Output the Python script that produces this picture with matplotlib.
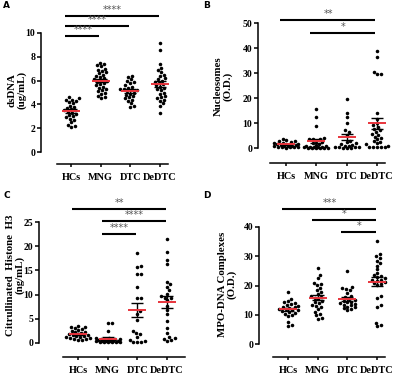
import numpy as np
import matplotlib
matplotlib.use("Agg")
import matplotlib.pyplot as plt

categories = ["HCs", "MNG", "DTC", "DeDTC"]

# Panel A: dsDNA (ug/mL)
dsdna_hcs = [4.6, 4.5, 4.4, 4.4, 4.3, 4.2, 4.1, 3.9, 3.8, 3.7, 3.6, 3.5, 3.5, 3.4, 3.3,
             3.2, 3.1, 3.0, 2.9, 2.8, 2.7, 2.5, 2.3, 2.2, 2.1]
dsdna_mng = [7.5, 7.4, 7.3, 7.2, 7.0, 6.9, 6.8, 6.7, 6.6, 6.5, 6.4, 6.3, 6.2, 6.1, 6.0,
             6.0, 5.9, 5.8, 5.7, 5.6, 5.5, 5.4, 5.3, 5.2, 5.1, 5.0, 4.9, 4.7, 4.6, 4.5]
dsdna_dtc = [6.4, 6.3, 6.1, 6.0, 5.9, 5.8, 5.6, 5.5, 5.4, 5.3, 5.3, 5.2, 5.2, 5.1, 5.0,
             4.9, 4.8, 4.7, 4.6, 4.5, 4.4, 4.3, 4.1, 3.9, 3.8]
dsdna_dedtc = [9.2, 8.6, 7.4, 7.1, 6.9, 6.7, 6.5, 6.4, 6.2, 6.1, 6.0, 5.9, 5.8, 5.7, 5.6,
               5.5, 5.4, 5.3, 5.2, 5.0, 4.9, 4.7, 4.6, 4.5, 4.4, 4.3, 4.1, 3.9, 3.3]

# Panel B: Nucleosomes (O.D.)
nuc_hcs = [3.5, 3.2, 3.0, 2.8, 2.6, 2.2, 2.0, 1.8, 1.6, 1.5, 1.3, 1.2, 1.1, 1.0, 0.9,
           0.8, 0.7, 0.6, 0.5, 0.4, 0.3, 0.3, 0.2]
nuc_mng = [15.7, 12.5, 9.0, 4.0, 3.8, 3.6, 3.5, 3.0, 2.5, 2.0, 1.5, 1.2, 1.0, 0.8, 0.6,
           0.5, 0.4, 0.3, 0.3, 0.2, 0.2, 0.2, 0.2, 0.1, 0.1]
nuc_dtc = [19.5, 14.0, 12.5, 10.2, 7.2, 6.5, 5.2, 3.0, 2.5, 2.0, 1.5, 1.2, 1.0, 0.8,
           0.5, 0.4, 0.3, 0.3, 0.2, 0.2, 0.2]
nuc_dedtc = [39.0, 36.3, 30.5, 29.8, 29.6, 14.1, 11.5, 10.0, 9.2, 8.5, 7.8, 7.2, 6.5,
             5.8, 5.2, 4.6, 4.0, 3.5, 3.0, 2.5, 2.0, 1.5, 1.0, 0.6, 0.5, 0.4, 0.3, 0.3]

# Panel C: Citrullinated Histone H3 (ng/mL)
cit_hcs = [3.5, 3.4, 3.3, 3.0, 2.9, 2.7, 2.5, 2.3, 2.2, 2.0, 1.9, 1.8, 1.7, 1.6, 1.5,
           1.4, 1.3, 1.2, 1.1, 1.0, 0.9, 0.8, 0.7, 0.6]
cit_mng = [4.2, 4.2, 2.4, 1.1, 1.0, 0.9, 0.8, 0.8, 0.7, 0.7, 0.6, 0.6, 0.5, 0.5, 0.5,
           0.4, 0.4, 0.4, 0.3, 0.3, 0.3, 0.2, 0.2, 0.2]
cit_dtc = [18.5, 16.0, 15.7, 14.3, 14.2, 11.5, 9.3, 9.3, 6.6, 6.0, 4.8, 2.4, 2.1, 1.8,
           1.2, 0.6, 0.5, 0.3, 0.3, 0.3]
cit_dedtc = [21.4, 18.9, 17.2, 16.3, 12.7, 12.1, 11.6, 10.9, 10.2, 9.7, 9.4, 9.2, 8.8,
             7.7, 6.9, 6.0, 4.5, 3.2, 2.0, 1.2, 1.0, 0.8, 0.6, 0.5]

# Panel D: MPO-DNA Complexes (O.D.)
mpo_hcs = [17.8, 15.5, 14.6, 14.2, 14.0, 13.6, 13.3, 13.0, 12.8, 12.5, 12.3, 12.1, 11.9,
           11.7, 11.5, 11.2, 11.0, 10.7, 10.4, 10.0, 9.5, 7.6, 6.5, 6.0]
mpo_mng = [26.0, 23.5, 22.5, 21.0, 20.6, 20.2, 19.3, 18.5, 17.8, 17.0, 16.5, 16.2, 15.8,
           15.3, 14.8, 14.4, 13.9, 13.5, 13.0, 12.5, 11.9, 11.0, 10.3, 9.8, 9.0, 8.6]
mpo_dtc = [25.0, 19.5, 19.2, 18.8, 18.5, 17.5, 16.5, 16.0, 15.5, 15.2, 14.8, 14.5, 14.3,
           14.0, 13.8, 13.5, 13.2, 12.8, 12.5, 12.2, 11.8, 11.5]
mpo_dedtc = [35.3, 30.8, 30.2, 29.5, 28.5, 27.6, 26.8, 25.5, 24.2, 23.5, 23.2, 22.9,
             22.5, 22.0, 21.8, 21.5, 21.2, 20.8, 20.5, 20.2, 16.5, 15.8, 13.5, 12.8,
             7.2, 6.5, 6.0]

W, H = 400, 375
fig = plt.figure(figsize=(W / 100, H / 100), dpi=100)
SERIF = "Liberation Serif"
RED = "#e8343c"


def beeswarm(vals, ax, xc, diam_px, max_px=12.0):
    """Compute x positions (data units) so markers spread without overlapping much."""
    vals = np.asarray(vals, float)
    pts = ax.transData.transform(np.column_stack([np.full(len(vals), xc), vals]))
    ypx = pts[:, 1]
    x0 = pts[0, 0]
    order = np.argsort(ypx)
    placed = []
    xs = np.zeros(len(vals))
    cands = [0.0]
    k = 1
    while k * 0.5 <= max_px:
        cands += [k * 0.5, -k * 0.5]
        k += 1
    for i in order:
        y = ypx[i]
        best, best_d = None, -1
        for c in cands:
            if placed:
                d = min(np.hypot(px - c, py - y) for (px, py) in placed)
            else:
                d = 1e9
            if d >= diam_px:
                best = c
                break
            if d > best_d + 0.3:
                best_d, best = d, c
        placed.append((best, y))
        xs[i] = best
    inv = ax.transData.inverted()
    return inv.transform(np.column_stack([x0 + xs, ypx]))[:, 0]


def panel(spine_x, cat0_x, step, y0_px, ppu, top_px, right_px, bounds_px, line_px,
          ticks, groups, sigs, ylabel_lines, label_x, label_y, letter, letter_xy):
    xl = (spine_x - cat0_x) / step
    xr = (right_px - cat0_x) / step
    ytop = (y0_px - top_px) / ppu
    ax = fig.add_axes([spine_x / W, (H - y0_px) / H, (right_px - spine_x) / W,
                       (y0_px - top_px) / H])
    ax.set_xlim(xl, xr)
    ax.set_ylim(0, ytop)
    ax.patch.set_alpha(0)
    for s in ["top", "right"]:
        ax.spines[s].set_visible(False)
    ax.spines["left"].set_bounds(ticks[0], ticks[-1])
    ax.spines["left"].set_linewidth(1.1)
    ax.spines["bottom"].set_linewidth(1.1)
    ax.spines["bottom"].set_bounds((bounds_px[0] - cat0_x) / step, (bounds_px[1] - cat0_x) / step)
    ax.spines["bottom"].set_position(("outward", (line_px - y0_px) * 0.72))
    ax.set_yticks(ticks)
    ax.set_xticks(range(4))
    ax.set_xticklabels(categories)
    ax.tick_params(axis="y", length=3, width=1.1, pad=1, labelsize=7)
    ax.tick_params(axis="x", length=2.5, width=1.1, pad=4, labelsize=7.4)
    for t in ax.get_xticklabels() + ax.get_yticklabels():
        t.set_fontfamily(SERIF)
        t.set_fontweight("bold")
    for i, g in enumerate(groups):
        xs = beeswarm(g, ax, i, 3.7)
        ax.scatter(xs, g, s=6.5, color="black", linewidths=0, zorder=3, clip_on=False)
        m = np.mean(g)
        se = np.std(g, ddof=1) / np.sqrt(len(g))
        ax.plot([i - 0.3, i + 0.3], [m, m], color=RED, lw=1.4, zorder=5,
                solid_capstyle="butt")
        ax.errorbar([i], [m], yerr=[se], fmt="none", ecolor="black", elinewidth=1.0,
                    capsize=4.5, capthick=1.0, zorder=4)
    for (a, b, yv, txt) in sigs:
        ax.plot([a - 0.2, b - 0.05], [yv, yv], color="black", lw=1.5, clip_on=False,
                solid_capstyle="butt")
        ax.text((a + b) / 2 - 0.1, yv + 0.008 * ytop, txt, ha="center", va="bottom",
                fontsize=7, color="#555555", fontfamily="DejaVu Sans")
    fig.text(label_x / W, 1 - label_y / H, ylabel_lines, rotation=90, ha="center",
             va="center", fontsize=7.8, fontweight="bold", fontfamily=SERIF,
             linespacing=1.0, multialignment="center")
    fig.text(letter_xy[0] / W, 1 - letter_xy[1] / H, letter, fontsize=6.5,
             fontweight="bold", fontfamily="DejaVu Sans", ha="left", va="center")
    return ax


# Panel A
panel(41, 71, 29.67, 152, 11.9, 2, 178, (57, 168), 164, [0, 2, 4, 6, 8, 10],
      [dsdna_hcs, dsdna_mng, dsdna_dtc, dsdna_dedtc],
      [(0, 1, 9.75, "****"), (0, 2, 10.6, "****"), (0, 3, 11.4, "****")],
      "dsDNA\n(ug/mL)", 17, 90, "A", (3, 5))

# Panel B
panel(258, 286, 30.3, 148, 2.5, 2, 398, (270, 385), 163, [0, 10, 20, 30, 40, 50],
      [nuc_hcs, nuc_mng, nuc_dtc, nuc_dedtc],
      [(0, 3, 51.2, "**"), (1, 3, 46.0, "*")],
      "Nucleosomes\n(O.D.)", 223, 86, "B", (203, 5))

# Panel C
panel(39, 78, 29.7, 343, 4.84, 195, 192, (63, 185), 357, [0, 5, 10, 15, 20, 25],
      [cit_hcs, cit_mng, cit_dtc, cit_dedtc],
      [(1, 2, 22.5, "****"), (1, 3, 25.2, "****"), (0, 3, 27.7, "**")],
      "Citrullinated  Histone  H3\n(ng/mL)", 15, 275, "C", (3, 195))

# Panel D
panel(259, 288, 29.7, 344, 2.925, 195, 398, (273, 385), 357, [0, 10, 20, 30, 40],
      [mpo_hcs, mpo_mng, mpo_dtc, mpo_dedtc],
      [(2, 3, 38.2, "*"), (1, 3, 42.3, "*"), (0, 3, 46.0, "***")],
      "MPO-DNA Complexes\n(O.D.)", 227, 284, "D", (203, 195))

fig.savefig("out.png", dpi=100)
